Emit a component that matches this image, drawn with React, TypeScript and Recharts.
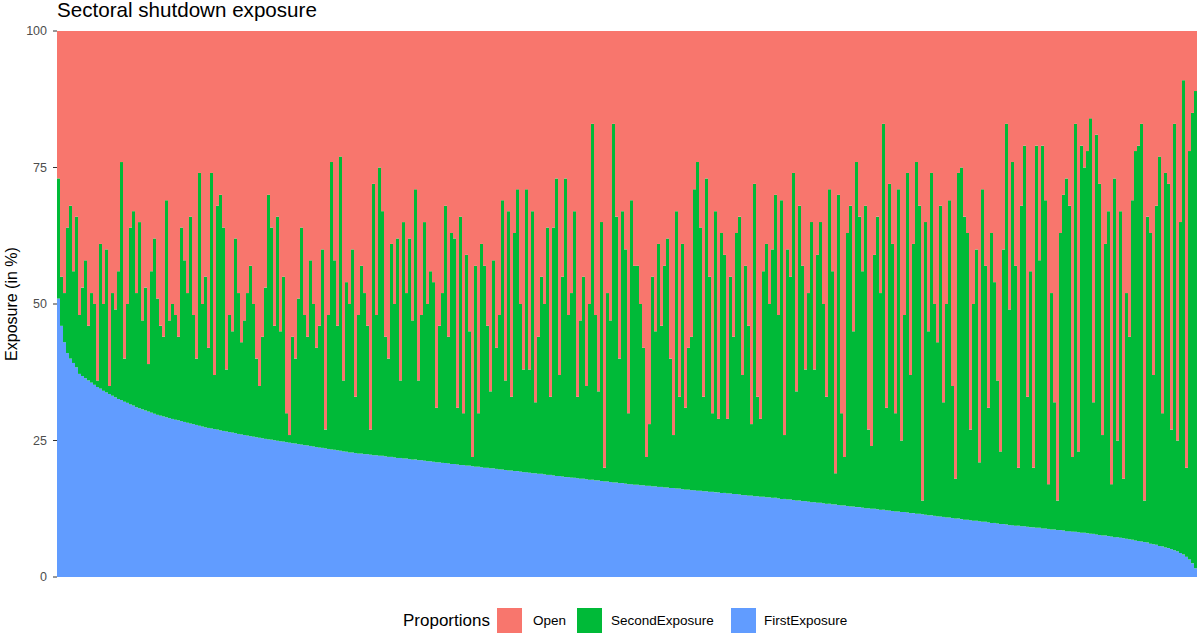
import React from "react";
import { BarChart, Bar, XAxis, YAxis } from "recharts";

const FONT = '"Liberation Sans", Arial, Helvetica, sans-serif';

// share of each sector hit by the first shutdown wave (sorted, descending)
const firstExposure = [
  51, 46, 43, 41, 40, 39.2, 38.4, 37.2, 36.8, 36.4,
  36.0, 35.6, 35.2, 34.8, 34.5, 34.1, 33.8, 33.5, 33.2, 32.9,
  32.6, 32.4, 32.1, 31.9, 31.6, 31.4, 31.1, 30.9, 30.7, 30.5,
  30.3, 30.1, 29.9, 29.7, 29.55, 29.4, 29.25, 29.1, 28.95, 28.8,
  28.7, 28.55, 28.4, 28.25, 28.1, 28.0, 27.85, 27.7, 27.55, 27.4,
  27.3, 27.2, 27.1, 27.0, 26.85, 26.75, 26.65, 26.55, 26.45, 26.35,
  26.2, 26.1, 26.0, 25.9, 25.8, 25.7, 25.6, 25.5, 25.4, 25.3,
  25.2, 25.15, 25.05, 24.95, 24.85, 24.8, 24.7, 24.6, 24.5, 24.45,
  24.35, 24.25, 24.15, 24.1, 24.0, 23.9, 23.8, 23.7, 23.65, 23.55,
  23.45, 23.35, 23.3, 23.2, 23.1, 23.0, 22.95,
  22.8, 22.8, 22.7, 22.6, 22.6, 22.5, 22.5, 22.4, 22.3, 22.3,
  22.2, 22.2, 22.1, 22.0, 22.0, 21.9, 21.8, 21.8, 21.7, 21.7,
  21.6, 21.5, 21.5, 21.4, 21.4, 21.3, 21.2, 21.2, 21.1, 21.0,
  21.0, 20.9, 20.9, 20.8, 20.7, 20.7, 20.6, 20.5, 20.5, 20.4,
  20.4, 20.3, 20.2, 20.2, 20.1, 20.0, 20.0, 19.9, 19.9, 19.8,
  19.7, 19.7, 19.6, 19.5, 19.5, 19.4, 19.4, 19.3, 19.2, 19.2,
  19.1, 19.0, 19.0, 18.9, 18.9, 18.8, 18.7, 18.7, 18.6, 18.5,
  18.5, 18.4, 18.3, 18.3, 18.2, 18.2, 18.1, 18.0, 18.0, 17.9,
  17.8, 17.8, 17.7, 17.7, 17.6, 17.5, 17.5, 17.4, 17.3, 17.3,
  17.2, 17.2, 17.1, 17.0, 17.0, 16.9,
  16.9, 16.8, 16.8, 16.7, 16.7, 16.6, 16.6, 16.5, 16.5, 16.4,
  16.4, 16.3, 16.3, 16.2, 16.2, 16.1, 16.0, 16.0, 15.9, 15.9,
  15.8, 15.8, 15.7, 15.7, 15.6, 15.6, 15.5, 15.5, 15.4, 15.4,
  15.3, 15.3, 15.2, 15.2, 15.1, 15.0, 15.0, 14.9, 14.9, 14.8,
  14.8, 14.7, 14.7, 14.6, 14.6, 14.5, 14.5, 14.4,
  14.3, 14.3, 14.2, 14.2, 14.1, 14.0, 14.0, 13.9, 13.9, 13.8,
  13.7, 13.7, 13.6, 13.6, 13.5, 13.4, 13.4, 13.3, 13.3, 13.2,
  13.1, 13.1, 13.0, 12.9, 12.9, 12.8, 12.8, 12.7, 12.6, 12.6,
  12.5, 12.5, 12.4, 12.3, 12.3, 12.2, 12.2, 12.1, 12.0, 12.0,
  11.9, 11.9, 11.8, 11.7, 11.7, 11.6, 11.6, 11.5,
  11.4, 11.3, 11.3, 11.2, 11.1, 11.1, 11.0, 10.9, 10.9, 10.8,
  10.7, 10.7, 10.6, 10.5, 10.5, 10.4, 10.3, 10.3, 10.2, 10.1,
  10.1, 10.0, 9.9, 9.9, 9.8, 9.7, 9.7, 9.6, 9.5,
  9.5, 9.4, 9.4, 9.3, 9.3, 9.2, 9.1, 9.1, 9.0, 9.0,
  8.9, 8.9, 8.8, 8.7, 8.7, 8.6, 8.6, 8.5, 8.4, 8.4,
  8.3, 8.3, 8.2, 8.1, 8.1, 8.0, 7.9, 7.9, 7.8, 7.7,
  7.6, 7.6, 7.5, 7.4, 7.3, 7.3, 7.2, 7.1, 7.0, 6.9,
  6.8, 6.7, 6.6, 6.5, 6.4, 6.3, 6.1, 6.0, 5.9, 5.7,
  5.6, 5.4, 5.3, 5.1, 4.9, 4.7, 4.4, 4.1, 3.7, 3.2,
  2.5, 1.6,
];

// first + second exposure (top of the green band) per sector
const totalExposure = [
  73, 55, 52, 64, 68, 56, 66, 48, 53, 58,
  46, 52, 50, 36, 61, 50, 60, 35, 52, 49,
  56, 76, 40, 50, 64, 67, 52, 65, 47, 53,
  39, 56, 62, 51, 46, 44, 69, 47, 50, 48,
  44, 64, 58, 52, 66, 48, 40, 74, 50, 55,
  42, 74, 37, 68, 70, 64, 38, 48, 45, 62,
  52, 43, 47, 52, 57, 50, 40, 35, 44, 53,
  70, 64, 46, 66, 45, 55, 30, 26, 44, 40,
  51, 64, 48, 44, 58, 50, 42, 46, 60, 27,
  48, 76, 58, 46, 77, 36, 54,
  50, 60, 33, 48, 57, 52, 46, 27, 72, 48,
  75, 67, 44, 40, 61, 50, 62, 36, 65, 52,
  62, 47, 71, 36, 48, 65, 50, 56, 54, 31,
  46, 52, 68, 44, 63, 62, 31, 66, 30, 59,
  45, 22, 57, 30, 61, 57, 46, 34, 58, 42,
  48, 69, 36, 67, 33, 63, 71, 50, 38, 71,
  38, 67, 32, 44, 55, 50, 64, 33, 64, 73,
  37, 55, 73, 48, 52, 67, 33, 47, 55, 35,
  50, 83, 48, 34, 65, 20, 52, 47, 83, 66,
  40, 67, 60, 30, 69, 57,
  57, 50, 42, 22, 28, 55, 45, 61, 46, 57,
  62, 40, 26, 67, 33, 61, 31, 42, 44, 71,
  76, 64, 33, 73, 55, 30, 67, 29, 63, 59,
  29, 55, 44, 63, 66, 37, 57, 46, 28, 72,
  33, 29, 56, 61, 50, 60, 70, 48, 69, 26,
  60, 55, 74, 34, 68, 57, 38, 52, 65, 38,
  59, 65, 50, 33, 71, 56, 19, 70, 30, 22,
  63, 68, 45, 76, 66, 56, 68, 27, 24, 59,
  66, 52, 83, 31, 72, 61, 30, 71, 25, 48,
  74, 37, 61, 76, 68, 14,
  65, 45, 74, 50, 43, 68, 32, 50, 69, 35,
  18, 74, 75, 66, 63, 27, 50, 60, 21, 71,
  57, 31, 63, 54, 36, 23, 60, 83, 49, 76,
  57, 20, 68, 79, 33, 56, 20, 79, 58, 79,
  69, 17, 52, 32, 14, 63, 70, 73, 68, 22,
  83, 23, 79, 75, 78, 84, 32, 81, 72, 26,
  61, 67, 17, 73, 25, 67, 18, 52, 44, 69,
  78, 79, 83, 14, 66, 63, 37, 68, 77, 30,
  74, 72, 27, 83, 25, 65, 91, 20, 78, 85,
  89,
];

const sectors = firstExposure.map((_, i) => `S${i + 1}`);
const yTicks = [0, 25, 50, 75, 100];

const legendItems = [
  { key: "Open", color: "#F8766D" },
  { key: "SecondExposure", color: "#00BA38" },
  { key: "FirstExposure", color: "#619CFF" },
];

const data = sectors.map((s, i) => {
  const first = firstExposure[i];
  const second = Math.max(0, totalExposure[i] - first);
  return {
    sector: s,
    FirstExposure: first,
    SecondExposure: second,
    Open: Math.max(0, 100 - first - second),
  };
});

// legend positions
const legendPos = [
  { sw: 497, tx: 533 },
  { sw: 577, tx: 611 },
  { sw: 731, tx: 764 },
];

export default function App() {
  return (
    <div style={{ position: "absolute", left: 0, top: 0, width: 1198, height: 633, background: "#fff", fontFamily: FONT }}>
      <div style={{ position: "absolute", left: 57, top: 0, fontSize: 20.6, lineHeight: "20px", color: "#000", whiteSpace: "nowrap" }}>
        Sectoral shutdown exposure
      </div>
      <div
        style={{
          position: "absolute", left: 12, top: 304, fontSize: 16, color: "#000", whiteSpace: "nowrap",
          transform: "translate(-50%, -50%) rotate(-90deg)",
        }}
      >
        Exposure (in %)
      </div>

      <BarChart
        width={1198}
        height={633}
        data={data}
        margin={{ top: 31, right: 1, bottom: 56, left: 0 }}
        barCategoryGap={0}
        barGap={0}
      >
        <XAxis dataKey="sector" hide />
        <YAxis
          width={57}
          domain={[0, 100]}
          ticks={yTicks}
          axisLine={false}
          tickSize={4}
          tickMargin={6}
          tickLine={{ stroke: "#333333" }}
          tick={{ fontSize: 12.5, fill: "#4D4D4D", fontFamily: FONT }}
        />
        <Bar dataKey="FirstExposure" stackId="a" fill="#619CFF" isAnimationActive={false} />
        <Bar dataKey="SecondExposure" stackId="a" fill="#00BA38" isAnimationActive={false} />
        <Bar dataKey="Open" stackId="a" fill="#F8766D" isAnimationActive={false} />
      </BarChart>

      <div style={{ position: "absolute", left: 403, top: 608, height: 25, lineHeight: "25px", fontSize: 17, color: "#000" }}>
        Proportions
      </div>
      {legendItems.map((it, i) => (
        <React.Fragment key={it.key}>
          <div style={{ position: "absolute", left: legendPos[i].sw, top: 608, width: 25, height: 25, background: it.color }} />
          <div style={{ position: "absolute", left: legendPos[i].tx, top: 608, height: 25, lineHeight: "25px", fontSize: 13.5, color: "#000" }}>
            {it.key}
          </div>
        </React.Fragment>
      ))}
    </div>
  );
}
